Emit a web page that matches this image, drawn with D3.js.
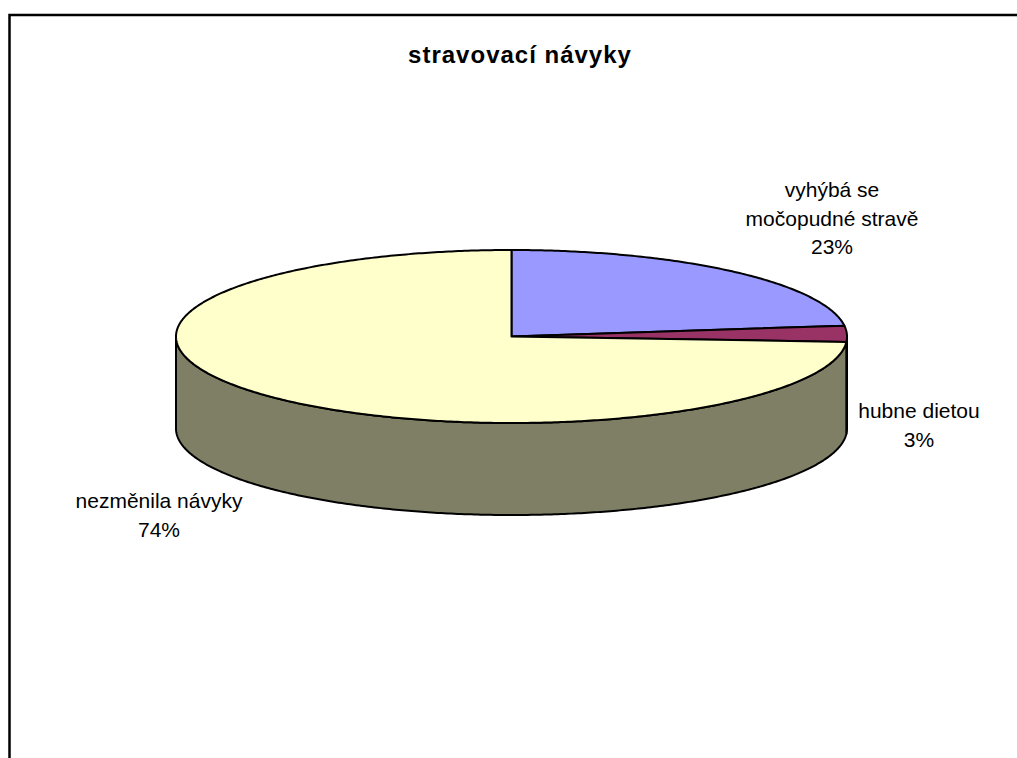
<!DOCTYPE html>
<html>
<head>
<meta charset="utf-8">
<script src="https://cdn.jsdelivr.net/npm/d3@7"></script>
<style>
  html, body { margin: 0; padding: 0; background: #ffffff; }
  svg { display: block; }
  text { font-family: "Liberation Sans", Arial, sans-serif; fill: #000; }
</style>
</head>
<body>
<svg id="chart" width="1017" height="758"></svg>
<script>
// Survey answers: dietary habits
const categories = ["vyhýbá se močopudné stravě", "hubne dietou", "nezměnila návyky"];
const values = [23, 3, 74];
const labelLines = [["vyhýbá se", "močopudné stravě", "23%"], ["hubne dietou", "3%"], ["nezměnila návyky", "74%"]];
const topColors = ["#9999FF", "#993366", "#FFFFCC"];
const sideColors = ["#4D4D80", "#4D1A33", "#7F7F66"];
const title = "stravovací návyky";

const W = 1017, H = 758;
const svg = d3.select("#chart");

// chart area frame (runs off the right and bottom edges)
svg.append("rect")
  .attr("x", 9.5).attr("y", 15)
  .attr("width", W + 20).attr("height", H + 20)
  .attr("fill", "#fff").attr("stroke", "#000").attr("stroke-width", 2.5);

svg.append("text")
  .attr("x", 520).attr("y", 63)
  .attr("text-anchor", "middle")
  .style("font-size", "24px").style("font-weight", "bold")
  .style("letter-spacing", "1px")
  .text(title);

// 3D pie geometry
const cx = 511.5, cy = 336.5, rx = 335.5, ry = 86.5, depth = 92;
const pt = (a, dy = 0) => [cx + rx * Math.sin(a), cy - ry * Math.cos(a) + dy];

const arcs = d3.pie().sort(null).value(d => d)(values);

function arcPoints(a0, a1, dy) {
  const n = Math.max(2, Math.ceil((a1 - a0) / 0.01));
  return d3.range(n + 1).map(i => pt(a0 + (a1 - a0) * i / n, dy));
}

const line = d3.line();
const g = svg.append("g");

// side walls: only the front half (angles between 90° and 270°) is visible
arcs.forEach((d, i) => {
  const a0 = Math.max(d.startAngle, Math.PI / 2);
  const a1 = Math.min(d.endAngle, 3 * Math.PI / 2);
  if (a1 <= a0) return;
  const topEdge = arcPoints(a0, a1, 0);
  const botEdge = arcPoints(a0, a1, depth).reverse();
  g.append("path")
    .attr("d", line(topEdge.concat(botEdge)) + "Z")
    .attr("fill", sideColors[i])
    .attr("stroke", "#000").attr("stroke-width", 2)
    .attr("stroke-linejoin", "round");
});

// top faces
arcs.forEach((d, i) => {
  const pts = [[cx, cy]].concat(arcPoints(d.startAngle, d.endAngle, 0));
  g.append("path")
    .attr("d", line(pts) + "Z")
    .attr("fill", topColors[i])
    .attr("stroke", "#000").attr("stroke-width", 2)
    .attr("stroke-linejoin", "round");
});

// data labels
const labelPos = [[832, 197], [919, 418], [159, 508]];
const lineGap = 28.5;
labelLines.forEach((lines, i) => {
  const t = svg.append("text")
    .attr("text-anchor", "middle")
    .style("font-size", "21px");
  lines.forEach((s, k) => {
    t.append("tspan")
      .attr("x", labelPos[i][0])
      .attr("y", labelPos[i][1] + k * lineGap)
      .text(s);
  });
});
</script>
</body>
</html>
